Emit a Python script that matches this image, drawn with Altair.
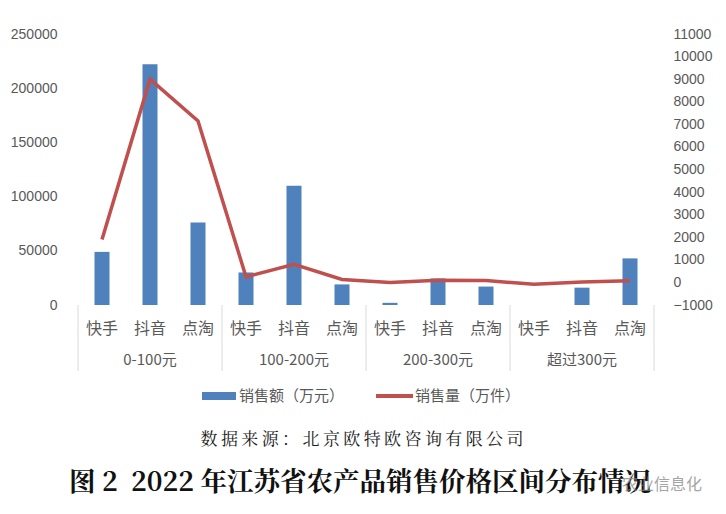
import altair as alt
import pandas as pd

groups = ["0-100元", "100-200元", "200-300元", "超过300元"]
platforms = ["快手", "抖音", "点淘"]
sales = [49000, 222000, 76000, 30000, 110000, 19000, 2000, 24500, 17000, 0, 16000, 43000]
volume = [1900, 9000, 7150, 250, 800, 130, 0, 100, 80, -80, 20, 70]
sales_ticks = [0, 50000, 100000, 150000, 200000, 250000]
volume_ticks = list(range(-1000, 11001, 1000))
legend_sales = "销售额（万元）"
legend_volume = "销售量（万件）"
source_text = "数据来源：北京欧特欧咨询有限公司"
title_text = "图 2\u00a0\u00a02022 年江苏省农产品销售价格区间分布情况"
watermark = "农业信息化"

W, H = 586, 271
n = len(groups) * len(platforms)

rows = []
for gi, g in enumerate(groups):
    for pi, p in enumerate(platforms):
        i = gi * len(platforms) + pi
        rows.append(dict(pos=i + 0.5, group=g, platform=p, sales=sales[i], volume=volume[i]))
df = pd.DataFrame(rows)
gdf = pd.DataFrame({"pos": [gi * len(platforms) + len(platforms) / 2 for gi in range(len(groups))],
                    "group": groups})
bdf = pd.DataFrame({"pos": [gi * len(platforms) for gi in range(len(groups) + 1)]})
one = pd.DataFrame({"a": [0]})

xs = alt.Scale(domain=[0, n], nice=False, zero=False)
LBL = "#595959"
CJK = "Noto Sans CJK SC"
NUM = "Liberation Sans"
SERIF = "Noto Serif CJK SC, " + CJK

bars = alt.Chart(df).mark_bar(size=15, color="#4F81BD").encode(
    x=alt.X("pos:Q", scale=xs,
            axis=alt.Axis(labels=False, ticks=False, title=None, grid=False,
                          domainColor="#d9d9d9", domainWidth=1)),
    y=alt.Y("sales:Q", scale=alt.Scale(domain=[0, 250000], nice=False),
            axis=alt.Axis(values=sales_ticks, format="d", title=None, grid=False, domain=False,
                          ticks=False, tickSize=0, labelPadding=16, labelFont=NUM,
                          labelFontSize=14, labelColor=LBL, orient="left")),
)

line = alt.Chart(df).mark_line(color="#C0504D", strokeWidth=3.5).encode(
    x=alt.X("pos:Q", scale=xs, axis=None),
    y=alt.Y("volume:Q", scale=alt.Scale(domain=[-1000, 11000], nice=False, zero=False),
            axis=alt.Axis(values=volume_ticks, format="d", title=None, grid=False, domain=False,
                          ticks=False, tickSize=0, labelPadding=14, labelFont=NUM,
                          labelFontSize=14, labelColor=LBL, orient="right", labelAlign="left")),
)

sub_labels = alt.Chart(df).mark_text(font=CJK, fontSize=16, color=LBL, baseline="middle").encode(
    x=alt.X("pos:Q", scale=xs, axis=None),
    y=alt.value(H + 24),
    text="platform:N",
)
group_labels = alt.Chart(gdf).mark_text(font=CJK, fontSize=15, color=LBL, baseline="middle").encode(
    x=alt.X("pos:Q", scale=xs, axis=None),
    y=alt.value(H + 55),
    text="group:N",
)
seps = alt.Chart(bdf).mark_rule(color="#d9d9d9", strokeWidth=1).encode(
    x=alt.X("pos:Q", scale=xs, axis=None),
    y=alt.value(H),
    y2=alt.value(H + 66),
)

leg_rect = alt.Chart(one).mark_rect(color="#4F81BD").encode(
    x=alt.value(129), x2=alt.value(163), y=alt.value(H + 87), y2=alt.value(H + 95))
leg_rect_t = alt.Chart(one).mark_text(font=CJK, fontSize=15, color=LBL, align="left",
                                      baseline="middle").encode(
    x=alt.value(166), y=alt.value(H + 91), text=alt.value(legend_sales))
leg_line = alt.Chart(one).mark_rule(color="#C0504D", strokeWidth=4).encode(
    x=alt.value(303), x2=alt.value(340), y=alt.value(H + 91))
leg_line_t = alt.Chart(one).mark_text(font=CJK, fontSize=15, color=LBL, align="left",
                                      baseline="middle").encode(
    x=alt.value(342), y=alt.value(H + 91), text=alt.value(legend_volume))

src = alt.Chart(one).mark_text(font=SERIF, fontSize=17, color="#1a1a1a",
                               align="center", baseline="middle").encode(
    x=alt.value(289), y=alt.value(H + 135), text=alt.value("\u2009".join(source_text)))
ttl = alt.Chart(one).mark_text(font=SERIF, fontSize=26.5, fontWeight="bold",
                               color="#111111", align="center", baseline="middle").encode(
    x=alt.value(287), y=alt.value(H + 178), text=alt.value(title_text))
wm = alt.Chart(one).mark_text(font=CJK, fontSize=16, color="#888888", opacity=0.75,
                              align="right", baseline="middle").encode(
    x=alt.value(629), y=alt.value(H + 180), text=alt.value(watermark))

chart = alt.layer(
    bars, line, seps, sub_labels, group_labels,
    leg_rect, leg_rect_t, leg_line, leg_line_t, src, ttl, wm
).resolve_scale(y="independent").properties(
    width=W, height=H,
    autosize=alt.AutoSizeParams(type="none"),
    padding={"left": 65, "top": 26, "right": 59, "bottom": 199},
    background="white",
).configure_view(stroke=None)

chart.save("out.html", embed_options={"renderer": "svg", "actions": False})
